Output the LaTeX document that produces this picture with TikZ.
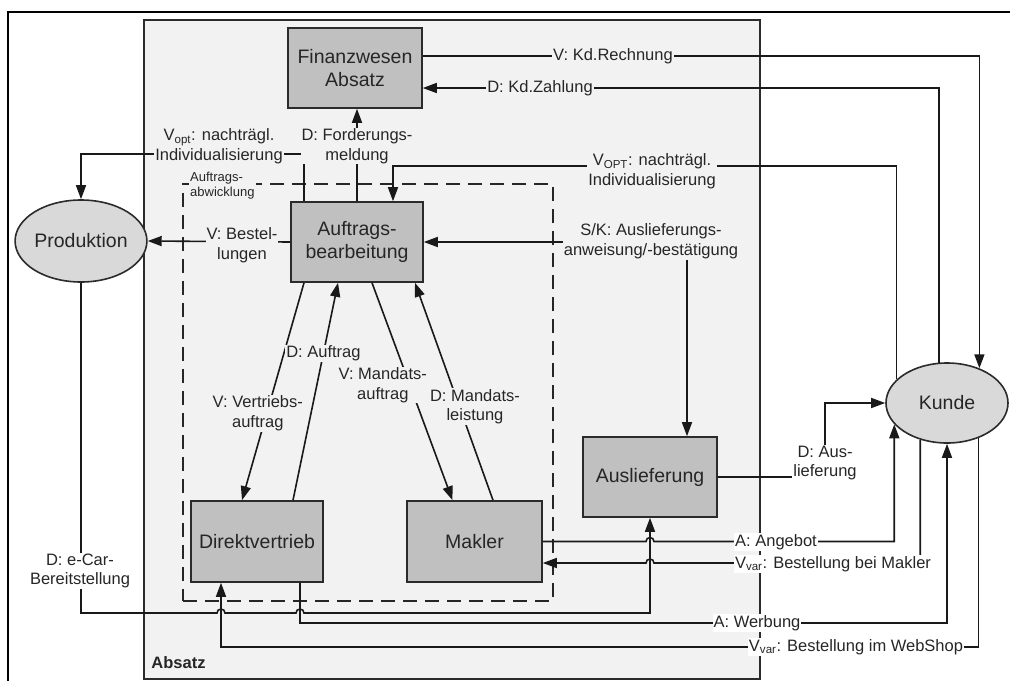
\documentclass[tikz,border=0pt]{standalone}
\usepackage{fontspec}
\setmainfont{Liberation Sans}
\usetikzlibrary{arrows.meta,shapes.geometric,calc}
\definecolor{absbg}{HTML}{F2F2F2}
\definecolor{boxfill}{HTML}{C0C0C0}
\definecolor{ellfill}{HTML}{D9D9D9}
\definecolor{edge}{HTML}{2B2B2B}
\definecolor{txt}{HTML}{262626}
\newcommand\boxfont{\fontsize{19.5}{23}\selectfont}
\newcommand\labfont{\fontsize{16.5}{19.5}\selectfont}
\begin{document}
\begin{tikzpicture}[x=1pt,y=-1pt,
  unit/.style={draw=edge, line width=1.6pt, fill=boxfill, align=center, font=\boxfont, text=txt, inner sep=0pt},
  party/.style={ellipse, draw=edge, line width=1.6pt, fill=ellfill, font=\boxfont, text=txt, inner sep=0pt},
  flow/.style={line width=1.6pt, draw=black!90},
  arr/.style={flow, -{Triangle[length=14pt,width=10pt]}},
  lab/.style={fill=absbg, inner sep=1pt, align=center, font=\labfont, text=txt},
  labw/.style={lab, fill=white},
  hop/.style={radius=4pt}
]
\useasboundingbox (0,0) rectangle (1010,681);

% outer frame
\draw[line width=1.6pt] (1010,12) -- (8,12) -- (8,681);

% Absatz area
\node[draw=edge, line width=1.5pt, fill=absbg, minimum width=616pt, minimum height=659pt, inner sep=0pt] (absatz) at (452,349.5) {};
\node[font=\bfseries\labfont, text=txt, anchor=base west, inner sep=0pt] (absatzlbl) at ($(absatz.south west)+(8,-11)$) {Absatz};

% Auftragsabwicklung (dashed)
\node[draw=black!85, line width=1.5pt, dash pattern=on 14pt off 8pt, minimum width=370pt, minimum height=417pt, inner sep=0pt] (abw) at (368,392.5) {};
\node[fill=absbg, font=\fontsize{13}{15}\selectfont, text=txt, align=left, anchor=west, inner sep=1pt] (abwlbl) at (189,186) {Auftrags-\\abwicklung};

% units
\node[unit, minimum width=134pt, minimum height=80pt] (fin) at (355,68) {Finanzwesen\\Absatz};
\node[unit, minimum width=132pt, minimum height=80pt] (ab) at (357,242) {Auftrags-\\bearbeitung};
\node[unit, minimum width=132pt, minimum height=81pt] (dv) at (257,541.5) {Direktvertrieb};
\node[unit, minimum width=135pt, minimum height=81pt] (mk) at (474.5,541.5) {Makler};
\node[unit, minimum width=134pt, minimum height=80pt] (al) at (650,477) {Auslieferung};
\node[party, minimum width=121pt, minimum height=82pt] (prod) at (81,241) {Produktion};
\node[party, minimum width=122pt, minimum height=80pt] (kunde) at (947,403) {Kunde};

% routing helpers
\coordinate (ecx) at (650,613);
\coordinate (wsx) at (221,647);
\coordinate (wbx) at (300,623);
\coordinate (voptlvl) at (0,166);
\coordinate (prodlvl) at (0,154);
\coordinate (alx) at (687,0);
\coordinate (abnw) at ([xshift=-53pt]ab.north);
\coordinate (abne) at ([xshift=36pt]ab.north);
\coordinate (mkB) at ($(mk.east)+(0,21.5)$);

% Finanzwesen <-> Kunde
\draw[arr] ([yshift=12pt]fin.east) -| (kunde.47);
\draw[arr] (kunde.101) |- ([yshift=-20pt]fin.east);
\node[lab] (kdr) at (613,56) {V: Kd.Rechnung};
\node[lab] (kdz) at (540,88) {D: Kd.Zahlung};

% Auftragsbearbeitung -> Produktion, Finanzwesen
\draw[arr] (abnw) -- (abnw |- prodlvl) -| (prod.north);
\node[lab] (voptp) at (219,146) {V\textsubscript{opt}: nachträgl.\\Individualisierung};
\draw[arr] (ab.north) -- (ab.north |- fin.south);
\node[lab] (ford) at (357,146) {D: Forderungs-\\meldung};
\draw[arr] (ab.west) -- (prod.east);
\node[lab] (best) at (242,245) {V: Bestel-\\lungen};

% Kunde -> Auftragsbearbeitung
\draw[arr] (kunde.155) -- (kunde.155 |- voptlvl) -| (abne);
\node[lab] (voptk) at (652,171) {V\textsubscript{OPT}: nachträgl.\\Individualisierung};

% Auslieferungsanweisung
\node[lab] (sk) at (651,241) {S/K: Auslieferungs-\\anweisung/-bestätigung};
\draw[arr] (sk.west |- ab.east) -- (ab.east);
\draw[arr] (sk.south -| alx) -- (al.north -| alx);

% Auftragsbearbeitung <-> Direktvertrieb / Makler
\draw[arr] ([xshift=-53pt]ab.south) -- ([xshift=-15pt]dv.north)
  node[lab, pos=0.6, xshift=-9pt] (vva) {V: Vertriebs-\\auftrag};
\draw[arr] ([xshift=36pt]dv.north) -- ([xshift=-19pt]ab.south)
  node[lab, pos=0.676] (dauf) {D: Auftrag};
\draw[arr] ([xshift=15pt]ab.south) -- ([xshift=-22pt]mk.north)
  node[lab, pos=0.47, xshift=-27pt] (vma) {V: Mandats-\\auftrag};
\draw[arr] ([xshift=18.5pt]mk.north) -- ([xshift=58pt]ab.south)
  node[lab, pos=0.43, xshift=15.5pt] (dml) {D: Mandats-\\leistung};

% Auslieferung -> Kunde
\node[labw] (dl) at (825,463) {D: Aus-\\lieferung};
\draw[flow] (al.east) -- (al.east -| dl.west);
\draw[arr] (dl.north) |- (kunde.west);

% Makler <-> Kunde
\draw[arr] (mk.east) -- ($(mk.east -| ecx)+(-4,0)$) arc[start angle=180, end angle=0, hop]
  -- (mk.east -| kunde.202) -- (kunde.202);
\draw[arr] (kunde.234) -- (kunde.234 |- mkB) -- ($(mkB -| ecx)+(4,0)$) arc[start angle=0, end angle=180, hop] -- (mkB);

% Produktion -> Auslieferung
\draw[arr] (prod.south) -- (prod.south |- ecx) -- ($(wsx |- ecx)+(-4,0)$) arc[start angle=180, end angle=0, hop]
  -- ($(wbx |- ecx)+(-4,0)$) arc[start angle=180, end angle=0, hop] -- (ecx) -- (al.south);

% Direktvertrieb <-> Kunde
\draw[arr] (dv.south -| wbx) -- (wbx) -| (kunde.south);
\draw[arr] (kunde.312) |- (wsx) -- (dv.south -| wsx);

% labels on the outer flows
\node[labw] (ang) at (776,542) {A: Angebot};
\node[labw] (bbm) at (833,564) {V\textsubscript{var}: Bestellung bei Makler};
\node[labw] (wer) at (757,623) {A: Werbung};
\node[labw] (bws) at (856,647) {V\textsubscript{var}: Bestellung im WebShop};
\node[labw] (ecar) at (80,571) {D: e-Car-\\Bereitstellung};
\end{tikzpicture}
\end{document}
